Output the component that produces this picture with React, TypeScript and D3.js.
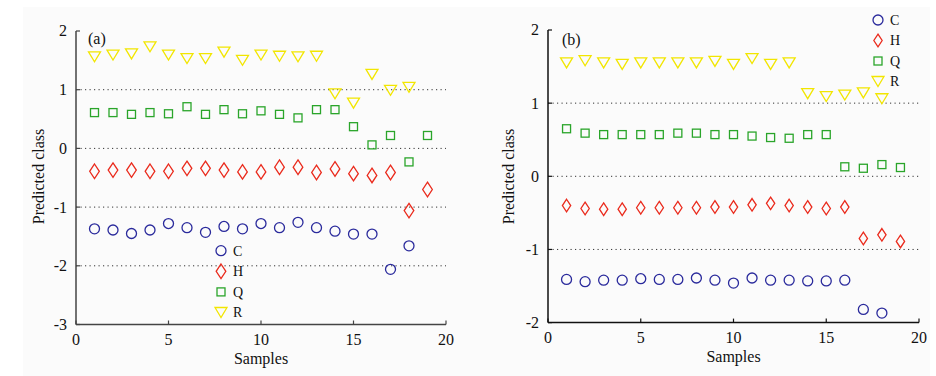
import React from "react";
import * as d3 from "d3";

const samplesC = d3.range(1, 19);
const samplesH = d3.range(1, 20);
const samplesQ = d3.range(1, 20);
const samplesR = d3.range(1, 19);

const aC = [-1.37,-1.39,-1.45,-1.39,-1.28,-1.35,-1.43,-1.33,-1.37,-1.28,-1.35,-1.26,-1.35,-1.41,-1.46,-1.46,-2.06,-1.66];
const aH = [-0.39,-0.37,-0.37,-0.39,-0.39,-0.34,-0.34,-0.37,-0.40,-0.40,-0.32,-0.32,-0.41,-0.35,-0.43,-0.46,-0.41,-1.06,-0.70];
const aQ = [0.61,0.61,0.58,0.61,0.59,0.71,0.58,0.66,0.59,0.64,0.58,0.52,0.66,0.66,0.37,0.06,0.22,-0.23,0.22];
const aR = [1.56,1.59,1.61,1.73,1.59,1.53,1.53,1.64,1.50,1.59,1.57,1.56,1.57,0.93,0.77,1.26,0.99,1.04];

const bC = [-1.41,-1.44,-1.42,-1.42,-1.40,-1.41,-1.41,-1.39,-1.42,-1.46,-1.39,-1.42,-1.42,-1.43,-1.43,-1.42,-1.82,-1.87];
const bH = [-0.40,-0.44,-0.45,-0.45,-0.43,-0.43,-0.43,-0.43,-0.42,-0.42,-0.39,-0.37,-0.40,-0.42,-0.44,-0.42,-0.85,-0.80,-0.89];
const bQ = [0.65,0.59,0.57,0.57,0.57,0.57,0.59,0.59,0.57,0.57,0.55,0.53,0.52,0.57,0.57,0.13,0.11,0.16,0.12];
const bR = [1.55,1.58,1.55,1.53,1.55,1.55,1.55,1.55,1.57,1.53,1.61,1.53,1.55,1.13,1.09,1.11,1.14,1.06];

const classNames = ["C", "H", "Q", "R"];
const xTicks = [0, 5, 10, 15, 20];
const yTicksA = [-3, -2, -1, 0, 1, 2];
const yTicksB = [-2, -1, 0, 1, 2];
const gridA = [-2, -1, 0, 1];
const gridB = [-1, 0, 1];

const COLORS: Record<string, string> = {
  C: "#2a2a9c",
  H: "#ea2a1c",
  Q: "#2aa52a",
  R: "#f2e600",
};

const FONT = "'Liberation Serif', 'Times New Roman', serif";

function Marker({ kind, x, y, dh }: { kind: string; x: number; y: number; dh: number }) {
  const c = COLORS[kind];
  const sw = 1.3;
  if (kind === "C") return <circle cx={x} cy={y} r={5} fill="none" stroke={c} strokeWidth={sw} />;
  if (kind === "H")
    return (
      <path
        d={`M${x},${y - dh}L${x + dh * 0.66},${y}L${x},${y + dh}L${x - dh * 0.66},${y}Z`}
        fill="none"
        stroke={c}
        strokeWidth={sw}
      />
    );
  if (kind === "Q") return <rect x={x - 4} y={y - 4} width={8} height={8} fill="none" stroke={c} strokeWidth={sw} />;
  return <path d={`M${x - 6},${y - 5}L${x + 6},${y - 5}L${x},${y + 5}Z`} fill="none" stroke={c} strokeWidth={sw} />;
}

type PanelProps = {
  label: string;
  xRange: [number, number];
  yDomain: [number, number];
  yRange: [number, number];
  yTicks: number[];
  grid: number[];
  series: { kind: string; xs: number[]; ys: number[] }[];
  axisColor: string;
  dh: number;
  legend: { x: number; y: number; step: number };
  yLabelX: number;
  labelPos: [number, number];
};

function Panel(p: PanelProps) {
  const x = d3.scaleLinear().domain([0, 20]).range(p.xRange);
  const y = d3.scaleLinear().domain(p.yDomain).range(p.yRange);
  const x0 = p.xRange[0];
  const x1 = p.xRange[1];
  const yb = p.yRange[0];
  const yt = p.yRange[1];
  return (
    <g fontFamily={FONT}>
      {p.grid.map((g) => (
        <line key={g} x1={x0} x2={x1} y1={y(g)} y2={y(g)} stroke="#333" strokeWidth={1} strokeDasharray="1.2,3.3" />
      ))}
      <line x1={x0} x2={x0} y1={yt} y2={yb} stroke={p.axisColor} strokeWidth={1.5} />
      <line x1={x0} x2={x1} y1={yb} y2={yb} stroke={p.axisColor} strokeWidth={1.5} />
      {p.yTicks.map((t) => (
        <g key={"y" + t}>
          <line x1={x0} x2={x0 + 4} y1={y(t)} y2={y(t)} stroke={p.axisColor} strokeWidth={1.2} />
          <text x={x0 - 9} y={y(t)} dy="0.34em" textAnchor="end" fontSize={16} fill="#111">
            {t}
          </text>
        </g>
      ))}
      {xTicks.map((t) => (
        <g key={"x" + t}>
          <line x1={x(t)} x2={x(t)} y1={yb} y2={yb - 4} stroke={p.axisColor} strokeWidth={1.2} />
          <text x={x(t)} y={yb + 20} textAnchor="middle" fontSize={16} fill="#111">
            {t}
          </text>
        </g>
      ))}
      <text x={x(10)} y={yb + 39} textAnchor="middle" fontSize={16} fill="#111">
        Samples
      </text>
      <text
        transform={`translate(${p.yLabelX},${176.5}) rotate(-90)`}
        textAnchor="middle"
        dy="0.35em"
        fontSize={16}
        fill="#111"
      >
        Predicted class
      </text>
      <text x={p.labelPos[0]} y={p.labelPos[1]} dy="0.35em" fontSize={16} fill="#111">
        {p.label}
      </text>
      {p.series.map((s) =>
        s.xs.map((xv, i) => <Marker key={s.kind + i} kind={s.kind} x={x(xv)} y={y(s.ys[i])} dh={p.dh} />)
      )}
      {classNames.map((k, i) => (
        <g key={"lg" + k}>
          <Marker kind={k} x={p.legend.x} y={p.legend.y + i * p.legend.step} dh={p.dh} />
          <text x={p.legend.x + 12} y={p.legend.y + i * p.legend.step} dy="0.35em" fontSize={14} fill="#111">
            {k}
          </text>
        </g>
      ))}
    </g>
  );
}

export default function App() {
  return (
    <svg width={936} height={376} style={{ position: "absolute", left: 0, top: 0, background: "#fff" }}>
      <rect x={23} y={7} width={907} height={369} fill="#fbfbfb" />
      <Panel
        label="(a)"
        xRange={[76, 446]}
        yDomain={[-3, 2]}
        yRange={[324.5, 31]}
        yTicks={yTicksA}
        grid={gridA}
        axisColor="#444"
        dh={7.3}
        legend={{ x: 221, y: 250.7, step: 20.6 }}
        yLabelX={38}
        labelPos={[88, 38.5]}
        series={[
          { kind: "C", xs: samplesC, ys: aC },
          { kind: "H", xs: samplesH, ys: aH },
          { kind: "Q", xs: samplesQ, ys: aQ },
          { kind: "R", xs: samplesR, ys: aR },
        ]}
      />
      <Panel
        label="(b)"
        xRange={[548, 919]}
        yDomain={[-2, 2]}
        yRange={[322.6, 30]}
        yTicks={yTicksB}
        grid={gridB}
        axisColor="#111"
        dh={6.3}
        legend={{ x: 878, y: 20, step: 20.5 }}
        yLabelX={508}
        labelPos={[562, 39]}
        series={[
          { kind: "C", xs: samplesC, ys: bC },
          { kind: "H", xs: samplesH, ys: bH },
          { kind: "Q", xs: samplesQ, ys: bQ },
          { kind: "R", xs: samplesR, ys: bR },
        ]}
      />
    </svg>
  );
}
